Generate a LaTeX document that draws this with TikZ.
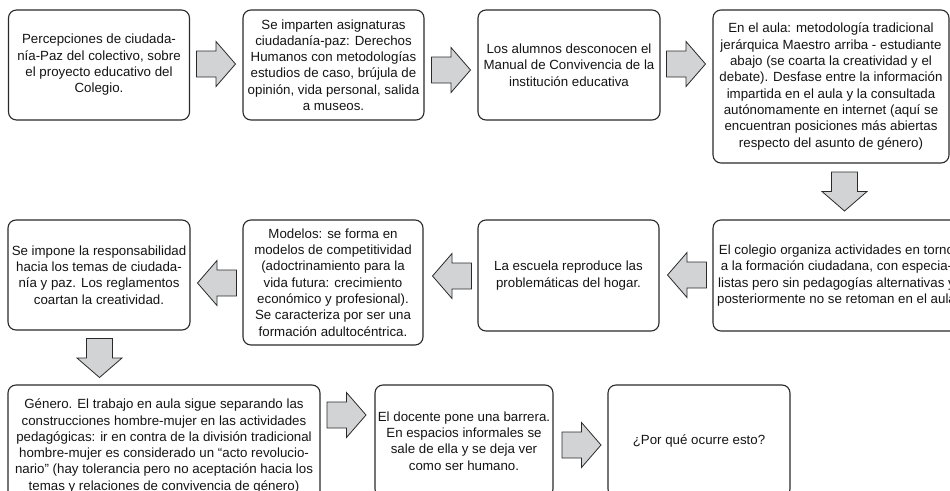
\documentclass[tikz,border=0pt]{standalone}
\usepackage{fontspec}
\setmainfont{Liberation Sans}
\definecolor{arrowgray}{HTML}{D2D3D5}
\definecolor{linegray}{HTML}{2A2A2A}
\begin{document}
\begin{tikzpicture}[x=1pt,y=-1pt,
  box/.style={draw=linegray, line width=1.1pt, rounded corners=8pt, align=center,
    inner sep=2pt, font=\fontsize{13.3}{16.3}\selectfont, text=black!92},
  blockarrow/.pic={\draw[fill=arrowgray, draw=linegray, line width=0.8pt]
    (-19.5,-13) -- (0,-13) -- (0,-22.5) -- (19.5,0) -- (0,22.5) -- (0,13) -- (-19.5,13) -- cycle;}
]
\useasboundingbox (0,0) rectangle (950,490);
\clip (0,0) rectangle (950,490);

% row 1
\node[box, minimum width=181pt, minimum height=110pt] (b1) at (99,65)
  {Percepciones de ciudada-\\nía-Paz del colectivo, sobre\\el proyecto educativo del\\Colegio.};
\node[box, minimum width=181pt, minimum height=110pt] (b2) at (333.5,65)
  {Se imparten asignaturas\\ciudadanía-paz: Derechos\\Humanos con metodologías\\estudios de caso, brújula de\\opinión, vida personal, salida\\a museos.};
\node[box, minimum width=182pt, minimum height=110pt] (b3) at (569,65)
  {Los alumnos desconocen el\\Manual de Convivencia de la\\institución educativa};
\node[box, minimum width=236pt, minimum height=153pt] (b4) at (831,86.5)
  {En el aula: metodología tradicional\\jerárquica Maestro arriba - estudiante\\abajo (se coarta la creatividad y el\\debate). Desfase entre la información\\impartida en el aula y la consultada\\autónomamente en internet (aquí se\\encuentran posiciones más abiertas\\respecto del asunto de género)};

% row 2
\node[box, minimum width=247pt, minimum height=111pt] (b5) at (836.5,275.5)
  {El colegio organiza actividades en torno\\a la formación ciudadana, con especia-\\listas pero sin pedagogías alternativas y\\posteriormente no se retoman en el aula};
\node[box, minimum width=181pt, minimum height=111pt] (b6) at (568.5,275.5)
  {La escuela reproduce las\\problemáticas del hogar.};
\node[box, minimum width=180pt, minimum height=125pt] (b7) at (333,282.5)
  {Modelos: se forma en\\modelos de competitividad\\(adoctrinamiento para la\\vida futura: crecimiento\\económico y profesional).\\Se caracteriza por ser una\\formación adultocéntrica.};
\node[box, minimum width=182pt, minimum height=110pt] (b8) at (99,275)
  {Se impone la responsabilidad\\hacia los temas de ciudada-\\nía y paz. Los reglamentos\\coartan la creatividad.};

% row 3
\node[box, minimum width=312pt, minimum height=122pt] (b9) at (164,446)
  {Género. El trabajo en aula sigue separando las\\construcciones hombre-mujer en las actividades\\pedagógicas: ir en contra de la división tradicional\\hombre-mujer es considerado un “acto revolucio-\\nario” (hay tolerancia pero no aceptación hacia los\\temas y relaciones de convivencia de género)};
\node[box, minimum width=178pt, minimum height=112pt] (b10) at (464,441)
  {El docente pone una barrera.\\En espacios informales se\\sale de ella y se deja ver\\como ser humano.};
\node[box, minimum width=182pt, minimum height=112pt] (b11) at (699,441)
  {¿Por qué ocurre esto?};

% block arrows
\pic at (216,64) {blockarrow};
\pic at (451,70) {blockarrow};
\pic at (686,64) {blockarrow};
\pic[rotate=-90] at (844.5,191.5) {blockarrow};
\pic[rotate=180] at (687,275) {blockarrow};
\pic[rotate=180] at (452,276) {blockarrow};
\pic[rotate=180] at (217,283) {blockarrow};
\pic[rotate=-90] at (99.5,358) {blockarrow};
\pic at (346.5,415) {blockarrow};
\pic at (581.5,445) {blockarrow};
\end{tikzpicture}
\end{document}
